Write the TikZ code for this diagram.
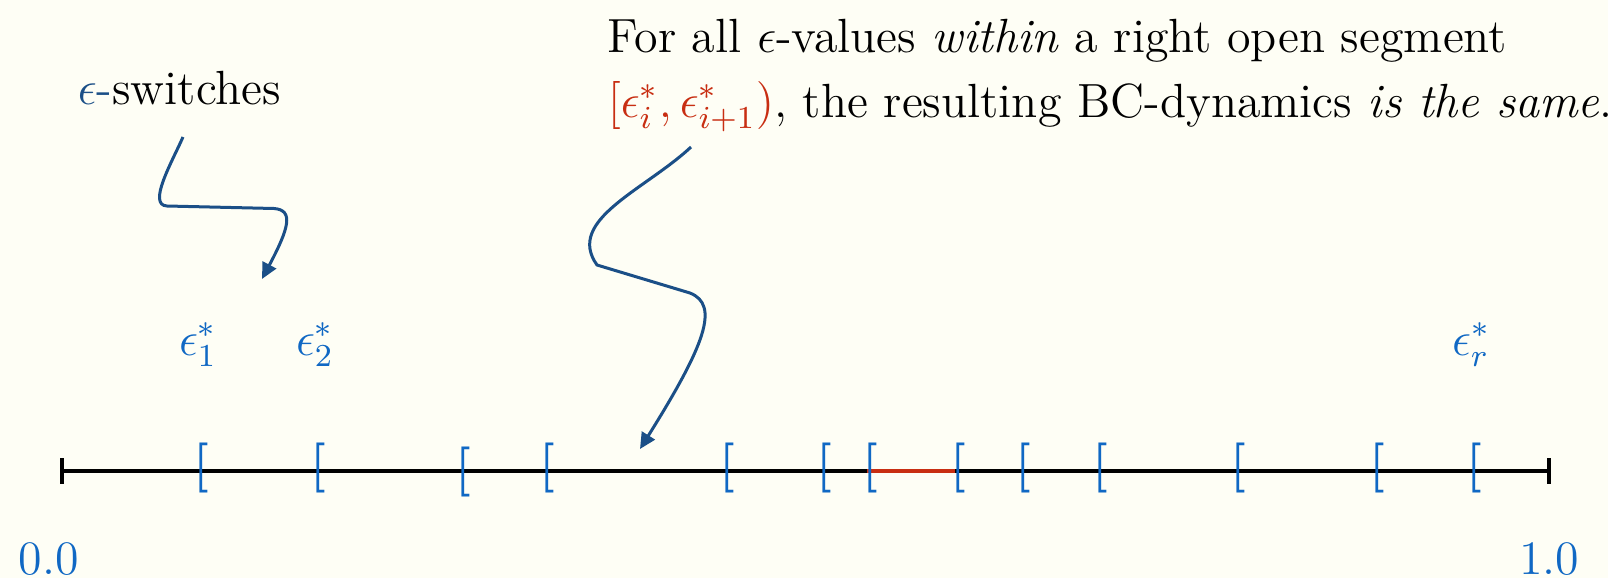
\documentclass[tikz,border=0pt]{standalone}
\usepackage{fontspec}
\usetikzlibrary{arrows.meta}
\definecolor{bgc}{RGB}{254,254,245}
\definecolor{brblue}{RGB}{16,104,196}
\definecolor{arblue}{RGB}{27,79,135}
\definecolor{segred}{RGB}{200,46,18}
\begin{document}
\begin{tikzpicture}[x=0.25pt,y=-0.25pt,
 txt/.style={inner sep=0pt,font=\fontsize{12}{14.5}\selectfont},
 brk/.style={inner sep=0pt,text=brblue,font=\fontsize{12.5}{15}\selectfont\bfseries},
 lab/.style={inner sep=0pt,text=brblue,font=\fontsize{12}{14.5}\selectfont,anchor=base},
 axisline/.style={line width=1.1pt,black},
 segline/.style={line width=1.1pt,segred},
 conn/.style={arblue,line width=0.75pt,-{Triangle[length=4pt,width=3.75pt]}}]
\fill[bgc] (0,0) rectangle (1608,578);
\useasboundingbox (0,0) rectangle (1608,578);
% axis
\coordinate (a0) at (62,471);
\coordinate (a1) at (1549,471);
\draw[axisline] (a0) -- (a1);
\draw[axisline] ([yshift=3.25pt]a0) -- ([yshift=-3.25pt]a0);
\draw[axisline] ([yshift=3.25pt]a1) -- ([yshift=-3.25pt]a1);
\coordinate (r0) at (867,471);
\coordinate (r1) at (955,471);
\draw[segline] (r0) -- (r1);
% brackets
\foreach \x/\n in {197/1,314/2,543/4,723/5,820/6,866/7,954/8,1019/9,1096/10,1234/11,1373/12,1470/13}
  \node[brk] (b\n) at (\x+4,467.5) {[};
\node[brk] (b3) at (463,471.5) {[};
% labels
\node[lab] (e1) at (198,355) {$\epsilon^*_1$};
\node[lab] (e2) at (315,355) {$\epsilon^*_2$};
\node[lab] (er) at (1471,355) {$\epsilon^*_r$};
\node[lab,anchor=base west] (z0) at (18,574) {0.0};
\node[lab,anchor=base east] (z1) at (1580,574) {1.0};
% texts
\node[txt,anchor=base west] (sw) at (77,104) {\textcolor{arblue}{$\epsilon$-}switches};
\node[txt,anchor=base west] (l1) at (607,52) {For all $\epsilon$-values \textit{within} a right open segment};
\node[txt,anchor=base west] (l2) at (607,117) {\textcolor{segred}{$[\epsilon^*_i,\epsilon^*_{i+1})$}, the resulting BC-dynamics \textit{is the same}.};
% arrows
\coordinate (s1) at (183,137);
\coordinate (t1) at (262,279);
\draw[conn] (s1) .. controls (172,162) and (147,205) .. (167,206) -- (274,208.5) .. controls (294,210) and (289,228) .. (t1);
\coordinate (s2) at (691,147);
\coordinate (t2) at (640,449);
\draw[conn] (s2) .. controls (645,190) and (565,220) .. (597,265) -- (690,293) .. controls (720,305) and (705,345) .. (t2);
\end{tikzpicture}
\end{document}
